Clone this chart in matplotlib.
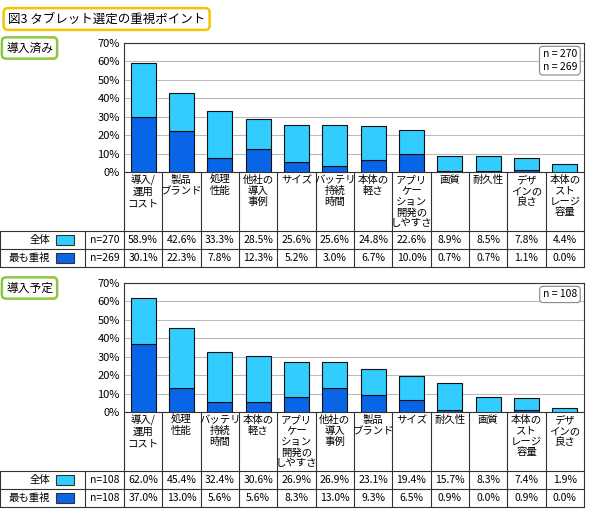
import matplotlib.pyplot as plt
import numpy as np

plt.rcParams['font.family'] = ['Noto Sans CJK JP', 'DejaVu Sans']

cats_a = ["導入/\n運用\nコスト", "製品\nブランド", "処理\n性能", "他社の\n導入\n事例", "サイズ",
          "バッテリ\n持続\n時間", "本体の\n軽さ", "アプリ\nケー\nション\n開発の\nしやすさ", "画質",
          "耐久性", "デザ\nインの\n良さ", "本体の\nスト\nレージ\n容量"]
all_a = [58.9, 42.6, 33.3, 28.5, 25.6, 25.6, 24.8, 22.6, 8.9, 8.5, 7.8, 4.4]
top_a = [30.1, 22.3, 7.8, 12.3, 5.2, 3.0, 6.7, 10.0, 0.7, 0.7, 1.1, 0.0]
n_a = ["n=270", "n=269"]

cats_b = ["導入/\n運用\nコスト", "処理\n性能", "バッテリ\n持続\n時間", "本体の\n軽さ",
          "アプリ\nケー\nション\n開発の\nしやすさ", "他社の\n導入\n事例", "製品\nブランド", "サイズ",
          "耐久性", "画質", "本体の\nスト\nレージ\n容量", "デザ\nインの\n良さ"]
all_b = [62.0, 45.4, 32.4, 30.6, 26.9, 26.9, 23.1, 19.4, 15.7, 8.3, 7.4, 1.9]
top_b = [37.0, 13.0, 5.6, 5.6, 8.3, 13.0, 9.3, 6.5, 0.9, 0.0, 0.9, 0.0]
n_b = ["n=108", "n=108"]

LIGHT = '#33ccff'
DARK = '#0a64e6'
W, H = 590, 519
fig = plt.figure(figsize=(W / 100, H / 100), dpi=100)
ov = fig.add_axes([0, 0, 1, 1])
ov.set_xlim(0, W)
ov.set_ylim(H, 0)
ov.axis('off')

X0, X1 = 124, 584
colw = (X1 - X0) / 12


def panel(y_top, y_bot, cats, tot, top, ns, label, nbox):
    ax = fig.add_axes([X0 / W, 1 - y_bot / H, (X1 - X0) / W, (y_bot - y_top) / H])
    x = np.arange(len(cats))
    ax.bar(x, top, 0.65, color=DARK, edgecolor='#111', lw=0.8, zorder=3)
    ax.bar(x, np.array(tot) - np.array(top), 0.65, bottom=top, color=LIGHT,
           edgecolor='#111', lw=0.8, zorder=3)
    ax.set_xlim(-0.5, 11.5)
    ax.set_ylim(0, 70)
    ax.set_yticks(range(0, 71, 10))
    ax.set_yticklabels([f"{v}%" for v in range(0, 71, 10)], fontsize=8)
    ax.set_xticks([])
    ax.tick_params(axis='y', length=0, pad=3)
    ax.yaxis.grid(True, color='#bbbbbb', lw=0.8, zorder=0)
    for s in ax.spines.values():
        s.set_color('#333')
    ax.text(0.985, 0.95, nbox, transform=ax.transAxes, ha='right', va='top', fontsize=7.5,
            linespacing=1.3,
            bbox=dict(boxstyle='round,pad=0.3', fc='white', ec='#888', lw=0.8))
    # label area and table
    lab_bot = y_bot + 59
    r1, r2, r3 = lab_bot, lab_bot + 18, lab_bot + 36
    for i in range(13):
        xx = X0 + i * colw
        ov.plot([xx, xx], [y_bot, r3], color='#333', lw=0.8)
    ov.plot([0, X1], [r1, r1], color='#333', lw=0.8)
    ov.plot([0, X1], [r2, r2], color='#333', lw=0.8)
    ov.plot([0, X1], [r3, r3], color='#333', lw=0.8)
    ov.plot([0, 0], [r1, r3], color='#333', lw=0.8)
    ov.plot([85, 85], [r1, r3], color='#333', lw=0.8)
    for i, c in enumerate(cats):
        ov.text(X0 + (i + 0.5) * colw, y_bot + 3, c, ha='center', va='top', fontsize=7.5,
                linespacing=1.1)
        ov.text(X0 + (i + 0.5) * colw, (r1 + r2) / 2, f"{tot[i]:.1f}%", ha='center',
                va='center', fontsize=7.5)
        ov.text(X0 + (i + 0.5) * colw, (r2 + r3) / 2, f"{top[i]:.1f}%", ha='center',
                va='center', fontsize=7.5)
    for (ya, yb), name, col, n in [((r1, r2), "全体", LIGHT, ns[0]), ((r2, r3), "最も重視", DARK, ns[1])]:
        ov.text(50, (ya + yb) / 2, name, ha='right', va='center', fontsize=7.5)
        ov.add_patch(plt.Rectangle((56, ya + 4), 18, yb - ya - 8, fc=col, ec='#333', lw=0.8))
        ov.text(104.5, (ya + yb) / 2, n, ha='center', va='center', fontsize=7.5)
    ov.text(6, y_top + 5, label, ha='left', va='center', fontsize=8.5,
            bbox=dict(boxstyle='round,pad=0.35', fc='white', ec='#8dc63f', lw=1.8))


ov.text(8, 19, "図3 タブレット選定の重視ポイント", ha='left', va='center', fontsize=9,
        bbox=dict(boxstyle='round,pad=0.35', fc='white', ec='#f5c400', lw=1.8))
panel(43, 172, cats_a, all_a, top_a, n_a, "導入済み", "n = 270\nn = 269")
panel(283, 412, cats_b, all_b, top_b, n_b, "導入予定", "n = 108")

fig.savefig('out.png', dpi=100)
